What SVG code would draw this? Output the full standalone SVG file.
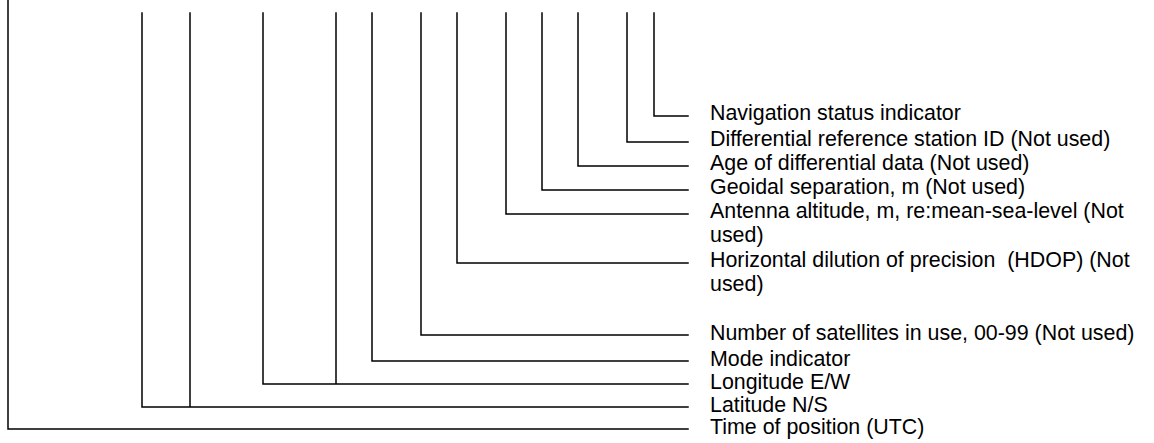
<svg xmlns="http://www.w3.org/2000/svg" width="1154" height="443" viewBox="0 0 1154 443">
<style>
.c{fill:none;stroke:#000;stroke-width:1.5;stroke-linecap:square;stroke-linejoin:miter}
.t{font-family:"Liberation Sans",Arial,sans-serif;font-size:21.4px;fill:#000}
</style>
<rect width="1154" height="443" fill="#fff"/>
<g id="connectors">
<path class="c" d="M8,0 V429 H688"/>
<path class="c" d="M142,13 V407 H688 M190,13 V407"/>
<path class="c" d="M263,13 V384 H688 M336,13 V384"/>
<path class="c" d="M372,13 V361 H688"/>
<path class="c" d="M421,13 V335 H688"/>
<path class="c" d="M457,13 V263 H688"/>
<path class="c" d="M506,13 V214 H688"/>
<path class="c" d="M542,13 V190 H688"/>
<path class="c" d="M578,13 V166 H688"/>
<path class="c" d="M627,13 V142 H688"/>
<path class="c" d="M654,13 V116 H688"/>
</g>
<g id="nav-status"><text class="t" x="710" y="120">Navigation status indicator</text></g>
<g id="diff-station"><text class="t" x="710" y="146">Differential reference station ID (Not used)</text></g>
<g id="age-diff"><text class="t" x="710" y="170">Age of differential data (Not used)</text></g>
<g id="geoidal"><text class="t" x="710" y="194">Geoidal separation, m (Not used)</text></g>
<g id="antenna"><text class="t" x="710" y="218">Antenna altitude, m, re:mean-sea-level (Not</text><text class="t" x="710" y="242">used)</text></g>
<g id="hdop"><text class="t" x="710" y="267" xml:space="preserve">Horizontal dilution of precision  (HDOP) (Not</text><text class="t" x="710" y="291">used)</text></g>
<g id="satellites"><text class="t" x="710" y="340">Number of satellites in use, 00-99 (Not used)</text></g>
<g id="mode"><text class="t" x="710" y="366">Mode indicator</text></g>
<g id="longitude"><text class="t" x="710" y="389">Longitude E/W</text></g>
<g id="latitude"><text class="t" x="710" y="412">Latitude N/S</text></g>
<g id="time"><text class="t" x="710" y="434">Time of position (UTC)</text></g>
</svg>
